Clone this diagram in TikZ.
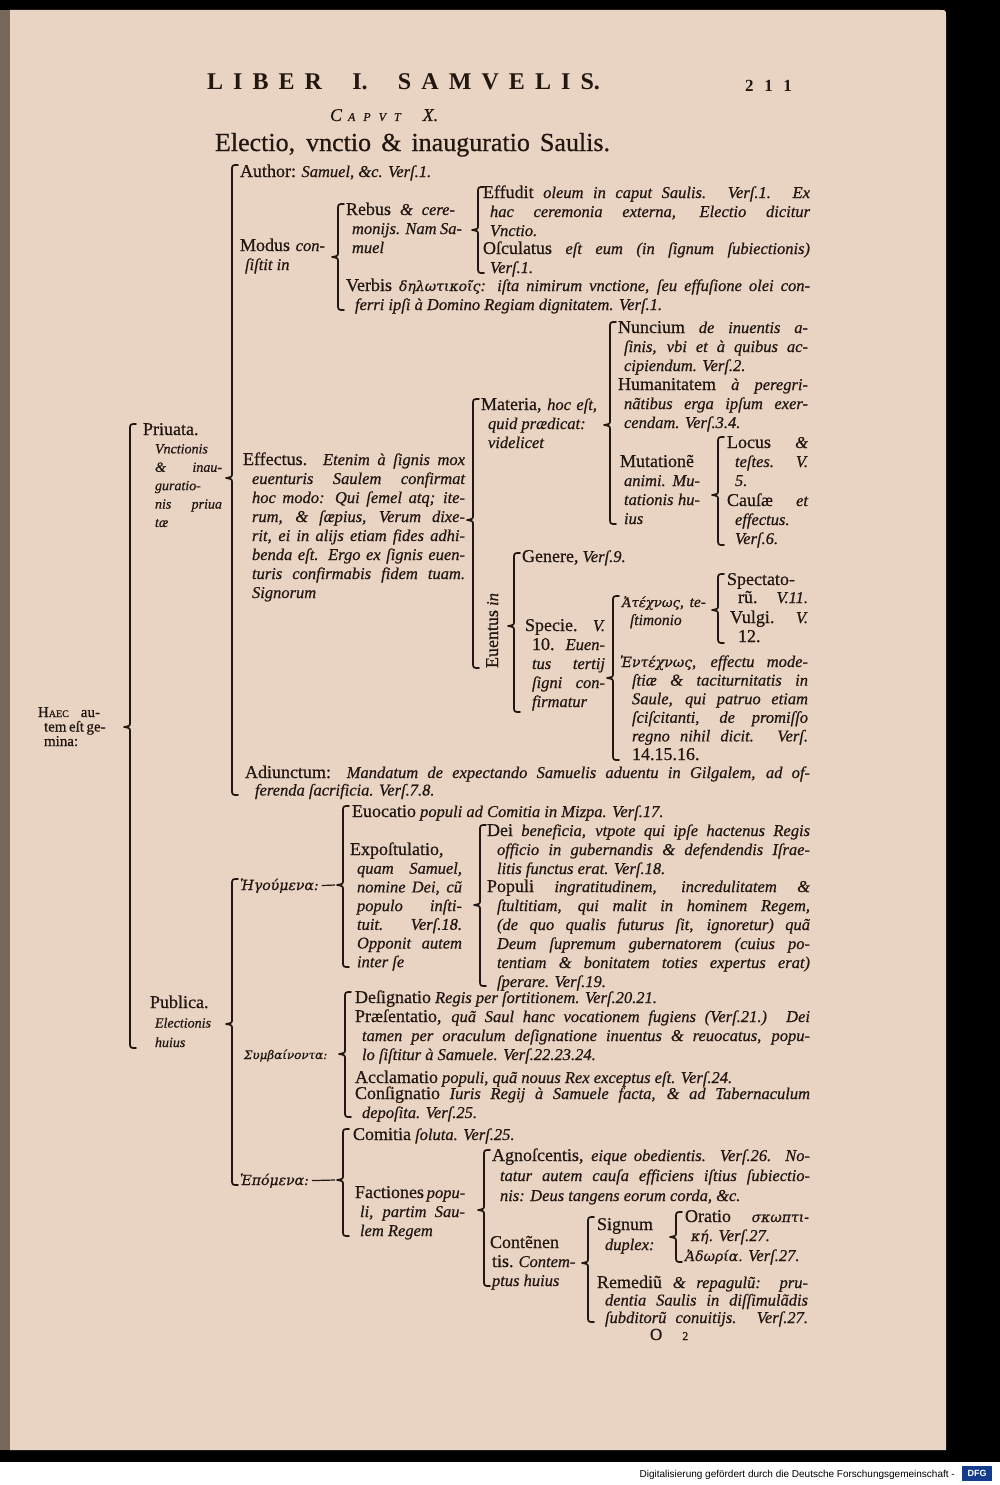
\documentclass[tikz,border=0pt]{standalone}
\usepackage{fontspec}
\setmainfont{Liberation Serif}[UprightFeatures={FakeBold=0.6},ItalicFeatures={FakeBold=0.6}]
\newfontfamily\grk[Scale=0.85,FakeBold=0.6]{DejaVu Serif}
\newfontfamily\sansf{Liberation Sans}
\definecolor{paper}{RGB}{233,212,196}
\definecolor{ink}{RGB}{34,22,16}
\definecolor{leftedge}{RGB}{120,104,90}
\definecolor{dfgblue}{RGB}{20,60,140}
\newcommand\RM{\fontsize{18}{19}\selectfont\upshape}
\newcommand\IT{\fontsize{16.5}{19}\selectfont\itshape}
\newcommand\IS{\fontsize{14}{14}\selectfont\itshape}
\newcommand\GK[1]{{\grk\itshape #1}}
\newcommand\jl[3]{\hbox{\hskip#1pt\hbox to #2pt{#3}}}
\newcommand\fl[2]{\hbox{\hskip#1pt #2}}
\newcommand\blk[2][19]{\vtop{\baselineskip=#1pt\lineskiplimit=-30pt\lineskip=0pt #2}}
\newcommand\brk[4]{\draw[brc] ({#1+6},#2) .. controls (#1,#2) .. (#1,{#2+6}) -- (#1,{#3-5}) .. controls (#1,{#3-1}) .. ({#1-6},#3) .. controls (#1,{#3+1}) .. (#1,{#3+5}) -- (#1,{#4-6}) .. controls (#1,#4) .. ({#1+6},#4);}
\begin{document}
\begin{tikzpicture}[x=1pt,y=-1pt,
  brc/.style={draw=ink,line width=1.7pt,line cap=round,line join=round},
  txt/.style={anchor=base west,inner sep=0pt,outer sep=0pt,text=ink,font=\IT},
  dashln/.style={draw=ink,line width=1.2pt,shorten <=3pt}]
\useasboundingbox (0,0) rectangle (1000,1485);
\fill[black] (0,0) rectangle (1000,1462);
\fill[white] (0,1462) rectangle (1000,1485);
\fill[leftedge] (0,10) rectangle (11,1450);
\fill[paper] (10,10) -- (940,10) .. controls (946,10) .. (946,16) -- (946,1450) -- (10,1450) -- cycle;

% header
\node[txt,font=\fontsize{24}{24}\selectfont\bfseries] (hdr) at (207,90) {\hbox to 393pt{L\hfill I\hfill B\hfill E\hfill R\hfill\hfill\hfill I.\hfill\hfill\hfill S\hfill A\hfill M\hfill V\hfill E\hfill L\hfill I\hfill S.}};
\node[txt,font=\fontsize{17}{17}\selectfont\bfseries] (pg) at (745,92) {\hbox to 47pt{2\hfill 1\hfill 1}};
\node[txt,font=\itshape] (cap) at (330,121) {{\fontsize{18}{18}\selectfont C}\hskip6pt{\fontsize{12}{12}\selectfont A\hskip8pt P\hskip8pt V\hskip8pt T}\hskip22pt{\fontsize{18}{18}\selectfont X.}};
\node[txt,font=\fontsize{26}{26}\selectfont\upshape] (title) at (215,151) {\hbox to 395pt{Electio, vnctio \& inauguratio Saulis.}};

% level 0 and 1
\node[txt,font=\fontsize{15}{15}\selectfont\upshape] (haec) at (38,717) {\blk[14.5]{\jl{0}{62}{H{\fontsize{10}{10}\selectfont AEC} au-}\jl{6}{56}{tem eſt ge-}\fl{6}{mina:}}};
\node[txt] (priu) at (143,435) {\blk[18.4]{\fl{0}{\RM Priuata.}\fl{12}{\IS Vnctionis}\jl{12}{67}{\IS \& inau-}\fl{12}{\IS guratio-}\jl{12}{67}{\IS nis priua}\fl{12}{\IS tæ}}};
\node[txt] (publ) at (150,1008) {\blk[19.5]{\fl{0}{\RM Publica.}\fl{5}{\IS Electionis}\fl{5}{\IS huius}}};

% Priuata branch
\node[txt] (auth) at (240,177) {{\RM Author:} Samuel, \&c. Verſ.1.};
\node[txt] (modus) at (240,251) {\blk{\jl{0}{85}{{\RM Modus} con-}\fl{5}{ſiſtit in}}};
\node[txt] (rebus) at (346,215) {\blk{\jl{0}{109}{{\RM Rebus} \& cere-}\jl{6}{110}{monijs. Nam Sa-}\fl{6}{muel}}};
\node[txt] (verbis) at (346,291) {\blk{\jl{0}{464}{{\RM Verbis} \GK{δηλωτικοῖς}: iſta nimirum vnctione, ſeu effuſione olei con-}\fl{9}{ferri ipſi à Domino Regiam dignitatem. Verſ.1.}}};
\node[txt] (effud) at (483,198) {\blk{\jl{0}{327}{{\RM Effudit} oleum in caput Saulis. Verſ.1. Ex}\jl{7}{320}{hac ceremonia externa, Electio dicitur}\fl{7}{Vnctio.}}};
\node[txt] (oscul) at (483,254) {\blk{\jl{0}{327}{{\RM Oſculatus} eſt eum (in ſignum ſubiectionis)}\fl{7}{Verſ.1.}}};

\node[txt] (effect) at (243,465) {\blk{\jl{0}{222}{{\RM Effectus.} Etenim à ſignis mox}\jl{9}{213}{euenturis Saulem confirmat}\jl{9}{213}{hoc modo: Qui ſemel atq; ite-}\jl{9}{213}{rum, \& ſæpius, Verum dixe-}\jl{9}{213}{rit, ei in alijs etiam fides adhi-}\jl{9}{213}{benda eſt. Ergo ex ſignis euen-}\jl{9}{213}{turis confirmabis fidem tuam.}\fl{9}{Signorum}}};
\node[txt] (mater) at (481,410) {\blk{\jl{0}{116}{{\RM Materia,} hoc eſt,}\fl{7}{quid prædicat:}\fl{7}{videlicet}}};
\node[txt,rotate=90] (euent) at (498,668) {{\RM Euentus} in};

\node[txt] (nunc) at (618,333) {\blk{\jl{0}{190}{{\RM Nuncium} de inuentis a-}\jl{6}{184}{ſinis, vbi et à quibus ac-}\fl{6}{cipiendum. Verſ.2.}}};
\node[txt] (human) at (618,390) {\blk{\jl{0}{190}{{\RM Humanitatem} à peregri-}\jl{6}{184}{nãtibus erga ipſum exer-}\fl{6}{cendam. Verſ.3.4.}}};
\node[txt] (mutat) at (620,467) {\blk{\jl{0}{80}{\RM Mutationẽ}\jl{4}{76}{animi. Mu-}\jl{4}{76}{tationis hu-}\fl{4}{ius}}};
\node[txt] (locus) at (727,448) {\blk{\jl{0}{81}{{\RM Locus} \&}\jl{8}{73}{teſtes. V.}\fl{8}{5.}}};
\node[txt] (causae) at (727,506) {\blk{\jl{0}{81}{{\RM Cauſæ} et}\jl{8}{73}{effectus.}\fl{8}{Verſ.6.}}};

\node[txt] (genere) at (522,562) {{\RM Genere,} Verſ.9.};
\node[txt] (specie) at (525,631) {\blk{\jl{0}{80}{{\RM Specie.} V.}\jl{7}{73}{{\RM 10.} Euen-}\jl{7}{73}{tus tertij}\jl{7}{73}{ſigni con-}\fl{7}{firmatur}}};
\node[txt,font=\fontsize{15.5}{19}\selectfont\itshape] (atech) at (622,607) {\blk[18]{\jl{0}{84}{\GK{Ἀτέχνως}, te-}\fl{8}{ſtimonio}}};
\node[txt] (spect) at (727,585) {\blk[18]{\jl{0}{81}{\RM Spectato-}\jl{11}{70}{{\RM rũ.} V.11.}}};
\node[txt] (vulgi) at (730,623) {\blk{\jl{0}{78}{{\RM Vulgi.} V.}\fl{8}{\RM 12.}}};
\node[txt] (entech) at (620,667) {\blk[18.6]{\jl{0}{188}{\GK{Ἐντέχνως}, effectu mode-}\jl{12}{176}{ſtiæ \& taciturnitatis in}\jl{12}{176}{Saule, qui patruo etiam}\jl{12}{176}{ſciſcitanti, de promiſſo}\jl{12}{176}{regno nihil dicit. Verſ.}\fl{12}{\RM 14.15.16.}}};

\node[txt] (adiun) at (245,778) {\blk[17.5]{\jl{0}{565}{{\RM Adiunctum:} Mandatum de expectando Samuelis aduentu in Gilgalem, ad of-}\fl{10}{ferenda ſacrificia. Verſ.7.8.}}};

% Publica branch
\node[txt] (heg) at (240,890) {\GK{Ἡγούμενα:}};
\coordinate (hegtip) at (335,885);
\draw[dashln] (heg.east) -- (hegtip);
\node[txt] (euoc) at (352,817) {{\RM Euocatio} populi ad Comitia in Mizpa. Verſ.17.};
\node[txt] (expost) at (350,855) {\blk[18.7]{\fl{0}{\RM Expoſtulatio,}\jl{7}{105}{quam Samuel,}\jl{7}{105}{nomine Dei, cũ}\jl{7}{105}{populo inſti-}\jl{7}{105}{tuit. Verſ.18.}\jl{7}{105}{Opponit autem}\fl{7}{inter ſe}}};
\node[txt] (dei) at (487,836) {\blk{\jl{0}{323}{{\RM Dei} beneficia, vtpote qui ipſe hactenus Regis}\jl{10}{313}{officio in gubernandis \& defendendis Iſrae-}\fl{10}{litis functus erat. Verſ.18.}}};
\node[txt] (populi) at (487,892) {\blk{\jl{0}{323}{{\RM Populi} ingratitudinem, incredulitatem \&}\jl{10}{313}{ſtultitiam, qui malit in hominem Regem,}\jl{10}{313}{(de quo qualis futurus ſit, ignoretur) quã}\jl{10}{313}{Deum ſupremum gubernatorem (cuius po-}\jl{10}{313}{tentiam \& bonitatem toties expertus erat)}\fl{10}{ſperare. Verſ.19.}}};

\node[txt,font=\fontsize{14}{19}\selectfont\itshape] (symb) at (244,1059) {\GK{Συμβαίνοντα:}};
\node[txt] (desig) at (355,1003) {{\RM Deſignatio} Regis per ſortitionem. Verſ.20.21.};
\node[txt] (praes) at (355,1022) {\blk{\jl{0}{455}{{\RM Præſentatio,} quã Saul hanc vocationem fugiens (Verſ.21.) Dei}\jl{7}{448}{tamen per oraculum deſignatione inuentus \& reuocatus, popu-}\fl{7}{lo ſiſtitur à Samuele. Verſ.22.23.24.}}};
\node[txt] (accl) at (355,1083) {{\RM Acclamatio} populi, quã nouus Rex exceptus eſt. Verſ.24.};
\node[txt] (consig) at (355,1099) {\blk{\jl{0}{455}{{\RM Conſignatio} Iuris Regij à Samuele facta, \& ad Tabernaculum}\fl{7}{depoſita. Verſ.25.}}};

\node[txt] (epom) at (240,1185) {\GK{Ἑπόμενα:}};
\coordinate (epotip) at (335,1180);
\draw[dashln] (epom.east) -- (epotip);
\node[txt] (comit) at (353,1140) {{\RM Comitia} ſoluta. Verſ.25.};
\node[txt] (faction) at (355,1198) {\blk{\jl{0}{110}{{\RM Factiones} popu-}\jl{5}{105}{li, partim Sau-}\fl{5}{lem Regem}}};
\node[txt] (agnos) at (492,1161) {\blk[20]{\jl{0}{318}{{\RM Agnoſcentis,} eique obedientis. Verſ.26. No-}\jl{8}{310}{tatur autem cauſa efficiens iſtius ſubiectio-}\fl{8}{nis: Deus tangens eorum corda, \&c.}}};
\node[txt] (contem) at (490,1248) {\blk{\fl{0}{\RM Contẽnen}\jl{2}{80}{{\RM tis.} Contem-}\fl{2}{ptus huius}}};
\node[txt] (signum) at (597,1230) {\blk[20]{\fl{0}{\RM Signum}\fl{8}{duplex:}}};
\node[txt] (orat) at (685,1222) {\blk{\jl{0}{124}{{\RM Oratio} \GK{σκωπτι-}}\fl{6}{\GK{κή.} Verſ.27.}}};
\node[txt] (adoria) at (685,1261) {\GK{Ἀδωρία.} Verſ.27.};
\node[txt] (remed) at (597,1288) {\blk[17.5]{\jl{0}{211}{{\RM Remediũ} \& repagulũ: pru-}\jl{8}{203}{dentia Saulis in diſſimulãdis}\jl{8}{203}{ſubditorũ conuitijs. Verſ.27.}}};

\node[txt,font=\fontsize{17}{17}\selectfont\upshape] (sig) at (650,1340) {O\hskip20pt{\fontsize{12}{12}\selectfont 2}};

% braces
\brk{130}{424}{727}{1048}
\brk{232}{165}{478}{795}
\brk{232}{879}{1024}{1185}
\brk{338}{204}{257}{310}
\brk{478}{187}{230}{273}
\brk{473}{399}{520}{668}
\brk{610}{322}{425}{524}
\brk{718}{437}{495}{545}
\brk{514}{553}{626}{712}
\brk{613}{596}{678}{760}
\brk{718}{574}{610}{643}
\brk{343}{806}{885}{967}
\brk{480}{825}{905}{986}
\brk{345}{992}{1054}{1117}
\brk{343}{1129}{1180}{1236}
\brk{484}{1150}{1210}{1286}
\brk{588}{1217}{1263}{1322}
\brk{676}{1212}{1237}{1262}

% footer
\node[anchor=base east,inner sep=0pt,font=\sansf\fontsize{10}{10}\selectfont,text=black] (dfgtxt) at (955,1477) {Digitalisierung gefördert durch die Deutsche Forschungsgemeinschaft -};
\node[fill=dfgblue,text=white,font=\sansf\bfseries\fontsize{9}{9}\selectfont,inner sep=1.5pt,anchor=west,minimum width=30pt,minimum height=15pt] (dfg) at (962,1473.5) {DFG};
\end{tikzpicture}
\end{document}
